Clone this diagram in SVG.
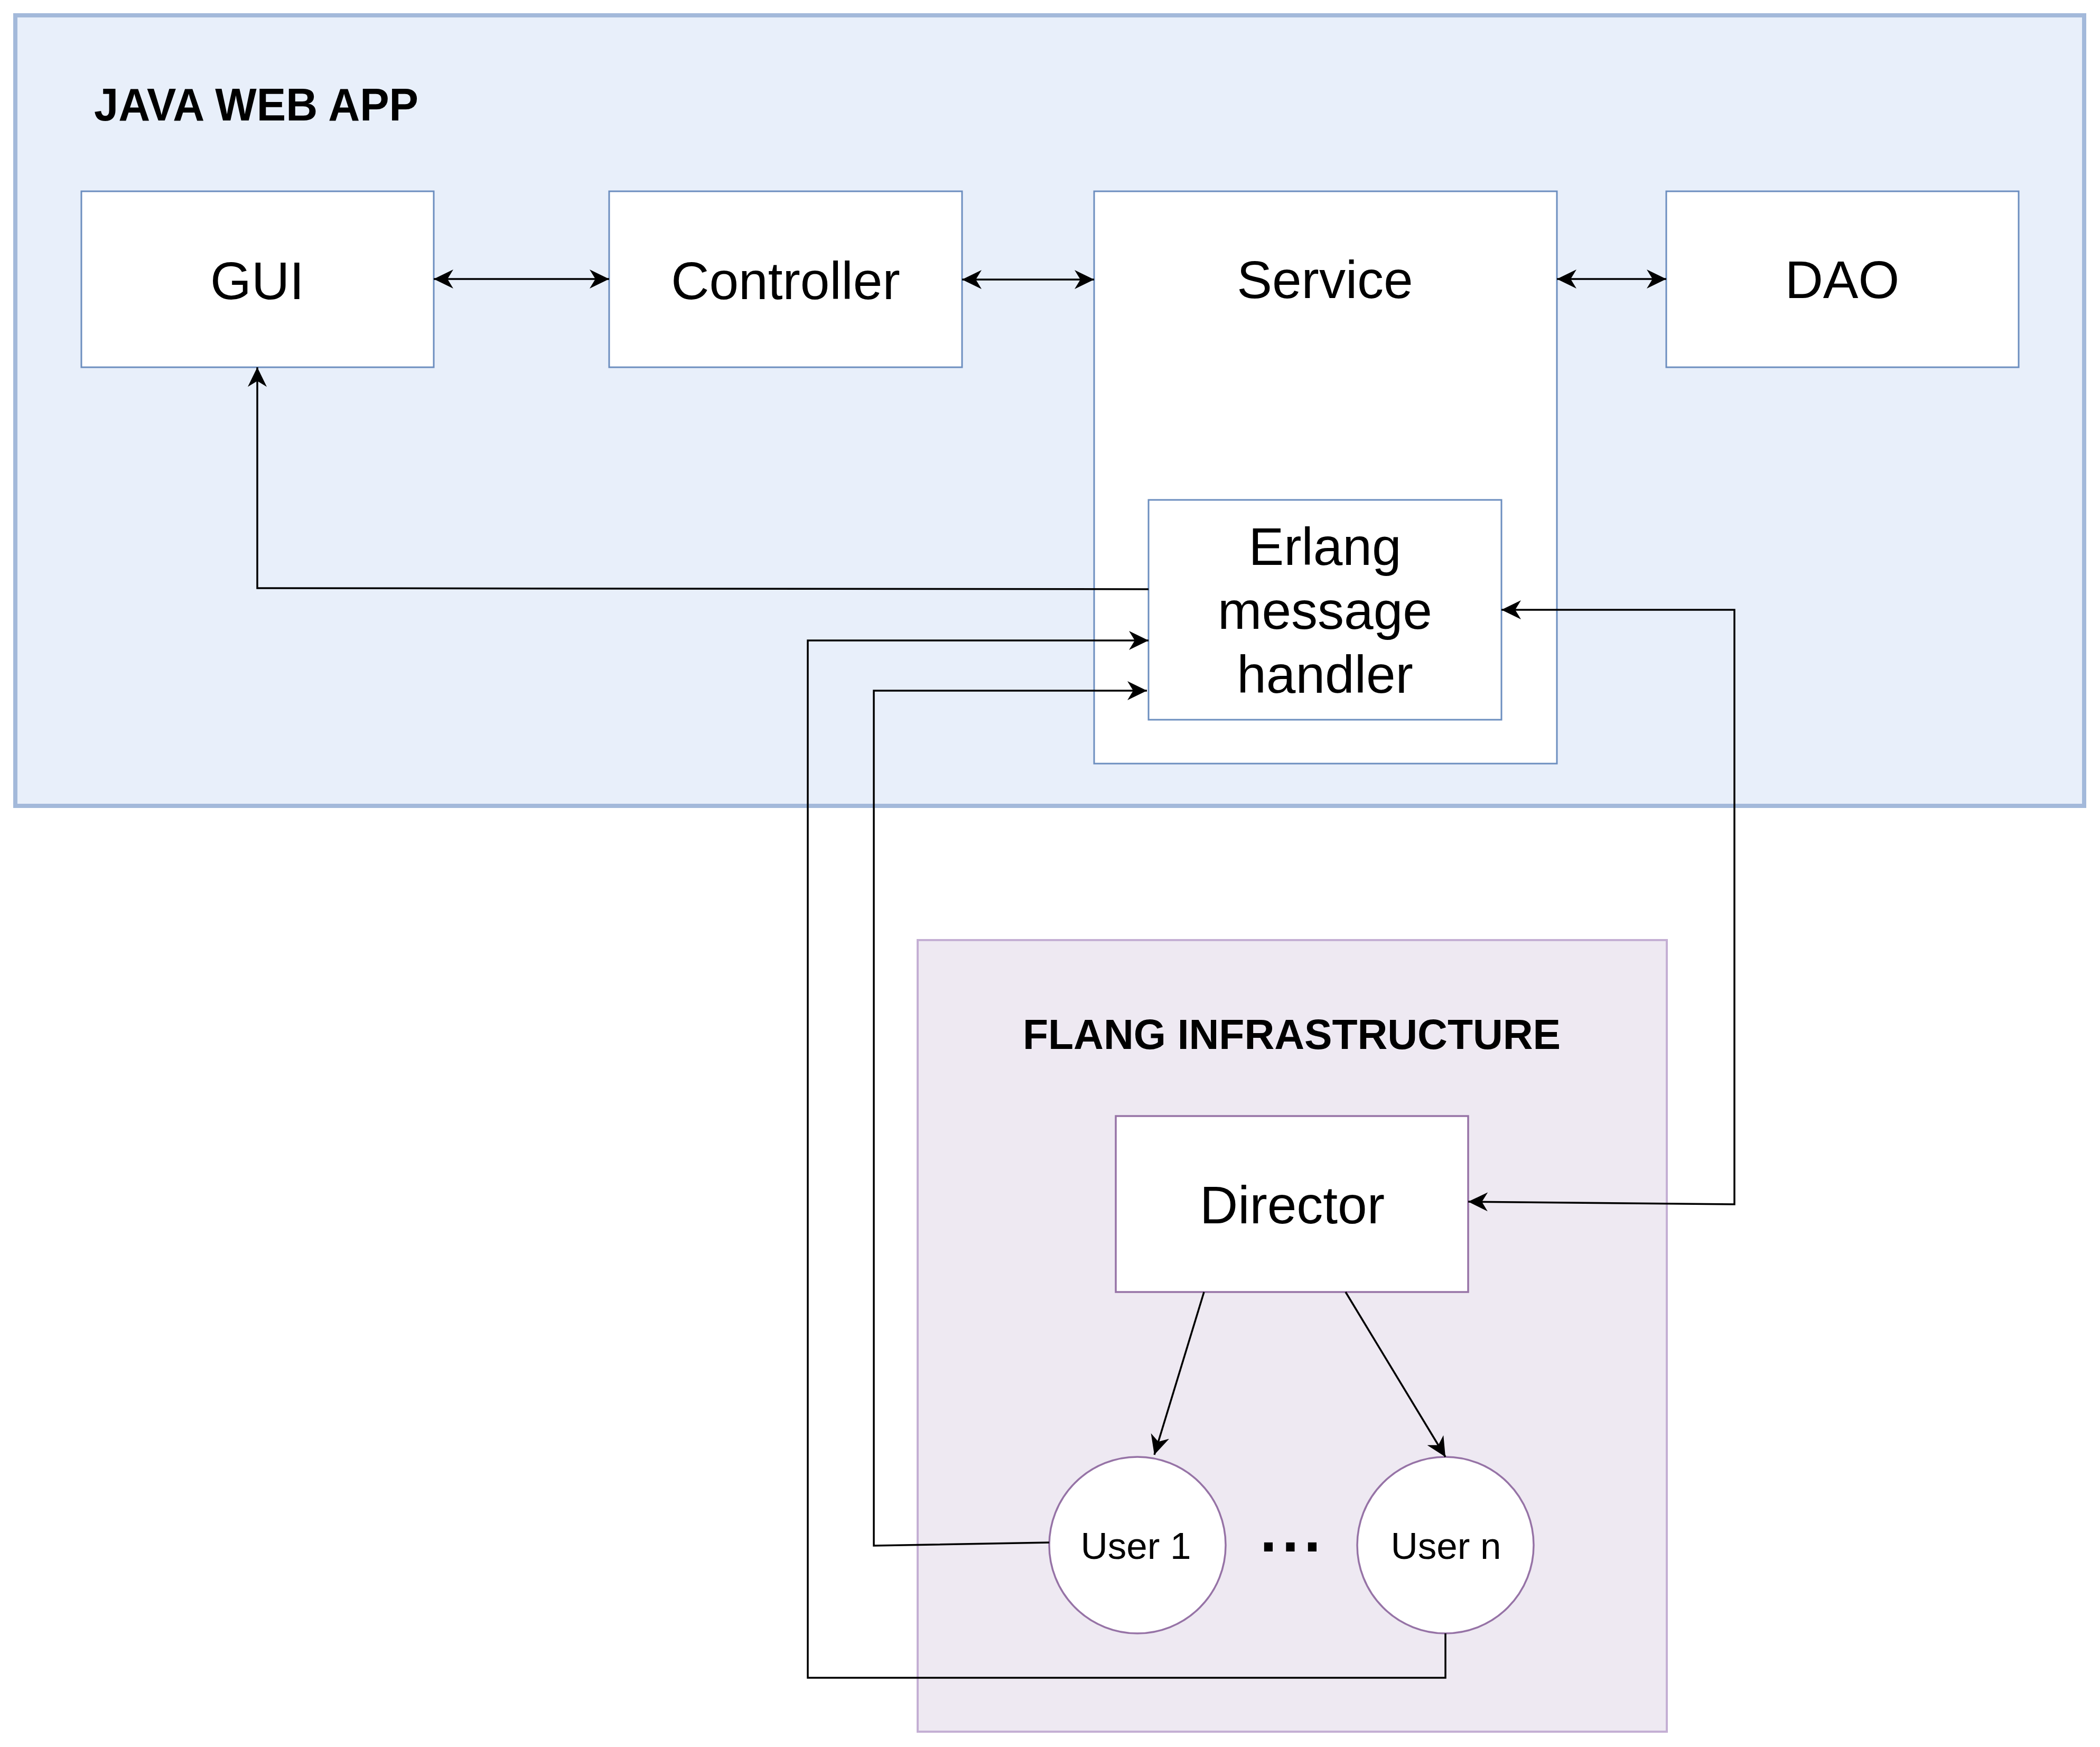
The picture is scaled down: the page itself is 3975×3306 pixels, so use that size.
<svg xmlns="http://www.w3.org/2000/svg" width="3975" height="3306" viewBox="0 0 3975 3306">
<defs>
<style>
.lbl{font-family:"Liberation Sans",Arial,Helvetica,sans-serif;font-size:100px;fill:#000;text-anchor:middle}
.sm{font-size:71px}
.ttl{font-family:"Liberation Sans",Arial,Helvetica,sans-serif;font-weight:bold;fill:#000}
.bbox{fill:#FFFFFF;stroke:#6C8EBF;stroke-width:3}
.pbox{fill:#FFFFFF;stroke:#9673A6;stroke-width:3.5}
.con{fill:none;stroke:#000;stroke-width:3.5}
</style>
<marker id="arr" viewBox="0 0 40 40" markerWidth="40" markerHeight="40" refX="37" refY="20" markerUnits="userSpaceOnUse" orient="auto-start-reverse">
<path d="M37,20 L0,2 L11,20 L0,38 Z" fill="#000"/>
</marker>
</defs>
<rect width="3975" height="3306" fill="#FFFFFF"/>

<g id="java-web-app">
<rect x="29" y="29" width="3916" height="1496" fill="#E8EFFA" stroke="#A3B9DA" stroke-width="8"/>
<text class="ttl" x="178" y="228" font-size="87" textLength="614" lengthAdjust="spacingAndGlyphs">JAVA WEB APP</text>
</g>

<g id="flang-infrastructure">
<rect x="1737" y="1779" width="1418" height="1498" fill="#EEE9F2" stroke="#C4AFD4" stroke-width="4"/>
<text class="ttl" x="1936" y="1985" font-size="80" textLength="1018" lengthAdjust="spacingAndGlyphs">FLANG INFRASTRUCTURE</text>
</g>

<g id="gui">
<rect class="bbox" x="154" y="362" width="667" height="333"/>
<text class="lbl" x="487" y="566">GUI</text>
</g>

<g id="controller">
<rect class="bbox" x="1153" y="362" width="668" height="333"/>
<text class="lbl" x="1487" y="566">Controller</text>
</g>

<g id="service">
<rect class="bbox" x="2071" y="362" width="876" height="1083"/>
<text class="lbl" x="2508" y="564">Service</text>
</g>

<g id="dao">
<rect class="bbox" x="3154" y="362" width="667" height="333"/>
<text class="lbl" x="3487" y="564">DAO</text>
</g>

<g id="erlang-message-handler">
<rect class="bbox" x="2174" y="946" width="668" height="416"/>
<text class="lbl" x="2508" y="1069">Erlang</text>
<text class="lbl" x="2508" y="1190">message</text>
<text class="lbl" x="2508" y="1311">handler</text>
</g>

<g id="director">
<rect class="pbox" x="2112" y="2112" width="667" height="333"/>
<text class="lbl" x="2446" y="2315">Director</text>
</g>

<g id="user-1">
<circle class="pbox" cx="2153" cy="2924" r="167"/>
<text class="lbl sm" x="2150" y="2950">User 1</text>
</g>

<g id="user-n">
<circle class="pbox" cx="2736" cy="2924" r="167"/>
<text class="lbl sm" x="2737" y="2950">User n</text>
</g>

<g id="ellipsis">
<text class="ttl" x="2385" y="2936" font-size="115" letter-spacing="9.5">...</text>
</g>

<g id="connectors">
<path class="con" d="M821,528 L1153,528" marker-start="url(#arr)" marker-end="url(#arr)"/>
<path class="con" d="M1821,529 L2071,529" marker-start="url(#arr)" marker-end="url(#arr)"/>
<path class="con" d="M2947,528 L3154,528" marker-start="url(#arr)" marker-end="url(#arr)"/>
<path class="con" d="M2174,1115 L487,1113 L487,695" marker-end="url(#arr)"/>
<path class="con" d="M2842,1154 L3283,1154 L3283,2279 L2779,2274" marker-start="url(#arr)" marker-end="url(#arr)"/>
<path class="con" d="M2279,2445 L2185,2753" marker-end="url(#arr)"/>
<path class="con" d="M2547,2445 L2736,2757" marker-end="url(#arr)"/>
<path class="con" d="M1986,2919 L1654,2925 L1654,1307 L2171,1307" marker-end="url(#arr)"/>
<path class="con" d="M2736,3091 L2736,3175 L1529,3175 L1529,1212 L2174,1212" marker-end="url(#arr)"/>
</g>
</svg>
